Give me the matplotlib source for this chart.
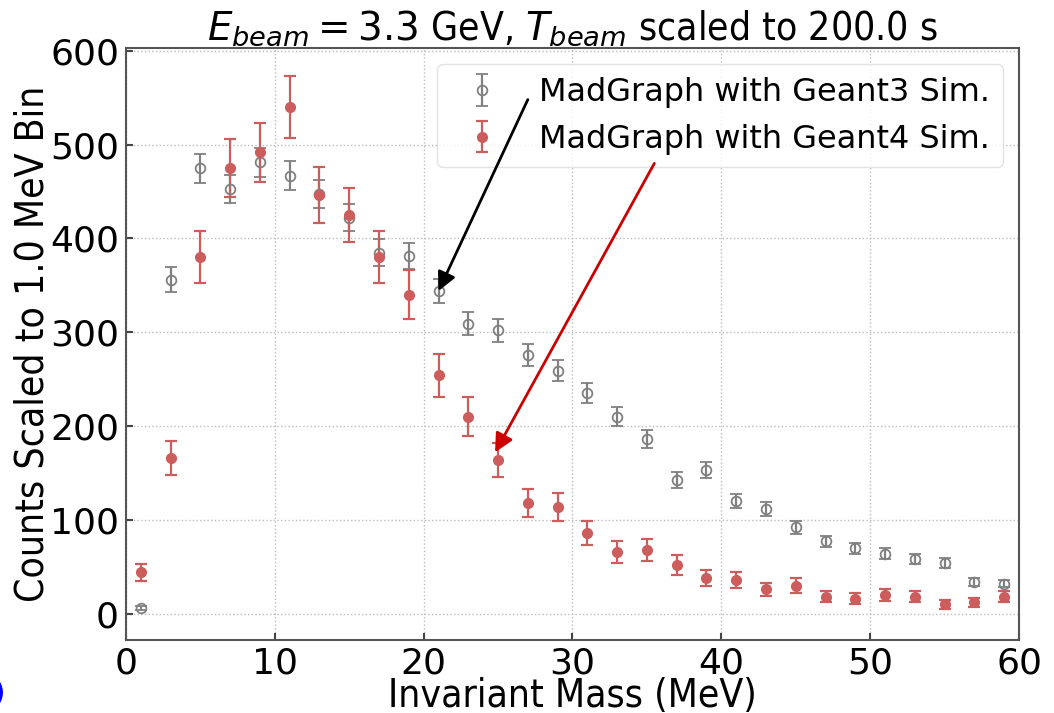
import matplotlib
matplotlib.use("Agg")
import matplotlib.pyplot as plt

# Bin centres (MeV)
mass = [1, 3, 5, 7, 9, 11, 13, 15, 17, 19, 21, 23, 25, 27, 29,
        31, 33, 35, 37, 39, 41, 43, 45, 47, 49, 51, 53, 55, 57, 59]

# MadGraph + Geant3 simulation
g3_counts = [6, 356, 475, 453, 481, 467, 447, 422, 385, 381, 344, 309, 302, 276, 259,
             235, 210, 186, 143, 153, 120, 112, 92, 77, 70, 64, 58, 54, 34, 32]
g3_err = [1.7, 13.3, 15.4, 15.0, 15.5, 15.3, 15.0, 14.5, 13.9, 13.8, 13.1, 12.4, 12.3, 11.7, 11.4,
          10.8, 10.2, 9.6, 8.5, 8.7, 7.7, 7.5, 6.8, 6.2, 5.9, 5.7, 5.4, 5.2, 4.1, 4.0]

# MadGraph + Geant4 simulation
g4_counts = [44, 166, 380, 475, 492, 540, 446, 425, 380, 340, 254, 210, 164, 118, 114,
             86, 66, 68, 52, 38, 36, 26, 30, 18, 16, 20, 18, 10, 12, 18]
g4_err = [9.4, 18.2, 27.6, 30.8, 31.4, 32.9, 29.9, 29.2, 27.6, 26.1, 22.5, 20.5, 18.1, 15.4, 15.1,
          13.1, 11.5, 11.7, 10.2, 8.7, 8.5, 7.2, 7.7, 6.0, 5.7, 6.3, 6.0, 4.5, 4.9, 6.0]

labels = ["MadGraph with Geant3 Sim.", "MadGraph with Geant4 Sim."]

fig = plt.figure(figsize=(10.54, 7.13), dpi=100)
ax = fig.add_axes([0.1195, 0.1024, 0.8473, 0.8303])

ax.errorbar(mass, g3_counts, yerr=g3_err, fmt='o', mfc='none', mec='gray', ecolor='gray',
            ms=7, mew=1.3, elinewidth=1.6, capsize=4, capthick=1.6, label=labels[0], zorder=3)
ax.errorbar(mass, g4_counts, yerr=g4_err, fmt='o', color='indianred', ecolor='indianred',
            ms=7, elinewidth=1.6, capsize=4, capthick=1.6, label=labels[1], zorder=3)

ax.set_xlim(0, 60)
ax.set_ylim(-28, 603)
ax.set_xticks([0, 10, 20, 30, 40, 50, 60])
ax.set_yticks([0, 100, 200, 300, 400, 500, 600])
ax.grid(True, linestyle=':', color='#bbbbbb', linewidth=1)
ax.set_axisbelow(True)
ax.tick_params(direction='in', length=5, width=1.5, labelsize=26, color='#444444', pad=5)
for sp in ax.spines.values():
    sp.set_color('#555555')
    sp.set_linewidth(1.5)

ax.set_xlabel("Invariant Mass (MeV)", fontsize=28, fontstretch='condensed', labelpad=-2.5)
ax.set_ylabel("Counts Scaled to 1.0 MeV Bin", fontsize=28, fontstretch='condensed', labelpad=-1)
ax.set_title(r"$E_{beam} = 3.3$ GeV, $T_{beam}$ scaled to 200.0 s", fontsize=28,
             fontstretch='condensed', pad=5)

leg = ax.legend(loc='upper right', fontsize=23, framealpha=0.8, borderpad=0.4,
                handletextpad=0.8)
leg.get_frame().set_edgecolor('#dddddd')
leg.set_zorder(5)

ax.annotate("", xy=(21.0, 344), xytext=(27.0, 548),
            arrowprops=dict(arrowstyle='-|>', color='black', lw=2, mutation_scale=28,
                            shrinkA=0, shrinkB=0), zorder=6)
ax.annotate("", xy=(24.8, 172), xytext=(35.5, 480),
            arrowprops=dict(arrowstyle='-|>', color='#cc0000', lw=2, mutation_scale=28,
                            shrinkA=0, shrinkB=0), zorder=6)

fig.text(6 / 1054, 0.027, "(b)", color='blue', fontsize=20, fontweight='bold',
         ha='right', va='center')

fig.savefig("out.png", dpi=100)
